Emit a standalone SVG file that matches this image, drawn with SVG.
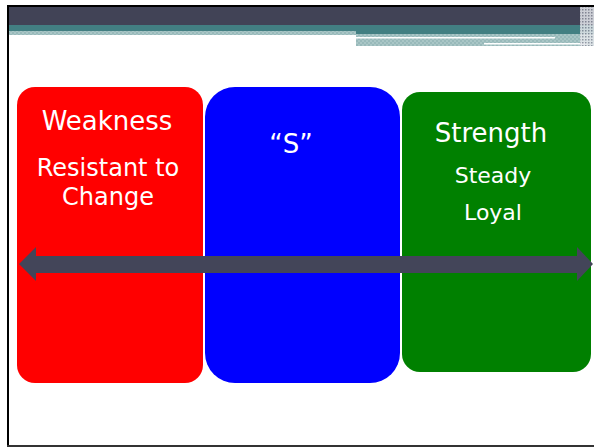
<svg xmlns="http://www.w3.org/2000/svg" width="594" height="447" viewBox="0 0 594 447">
  <defs>
    <pattern id="checker" width="4" height="4" patternUnits="userSpaceOnUse">
      <rect width="4" height="4" fill="#a9c6c6"/>
      <rect width="2" height="2" fill="#98b9ba"/>
      <rect x="2" y="2" width="2" height="2" fill="#98b9ba"/>
    </pattern>
    <pattern id="dots" width="3" height="3" patternUnits="userSpaceOnUse">
      <rect width="3" height="3" fill="#e6e8ec"/>
      <rect width="1.5" height="1.5" fill="#8d909e"/>
    </pattern>
    <style>
      .lbl { font-family: "DejaVu Sans", "Liberation Sans", sans-serif; fill: #ffffff; text-anchor: middle; }
      .title { font-size: 26px; }
      .sub { font-size: 24px; }
      .sub2 { font-size: 22px; }
    </style>
  </defs>

  <rect width="594" height="447" fill="#ffffff"/>

  <!-- header bands -->
  <g id="header">
    <rect x="7" y="5" width="587" height="2" fill="#000000"/>
    <rect x="9" y="7" width="585" height="18" fill="#414356"/>
    <rect x="9" y="25" width="585" height="6" fill="#427f82"/>
    <rect x="9" y="31" width="347" height="4" fill="url(#checker)"/>
    <rect x="356" y="31" width="238" height="3" fill="#427f82"/>
    <rect x="356" y="34" width="238" height="12" fill="url(#checker)"/>
    <rect x="356" y="37" width="199" height="1.5" fill="#ffffff"/>
    <rect x="484" y="43" width="103" height="1.5" fill="#ffffff"/>
    <rect x="580" y="7" width="14" height="39" fill="url(#dots)" opacity="0.85"/>
  </g>

  <!-- slide frame -->
  <rect x="7" y="5" width="2" height="442" fill="#000000"/>
  <rect x="7" y="445" width="587" height="2" fill="#333333"/>

  <g id="weakness">
    <rect x="17" y="87" width="186" height="296" rx="18" fill="#ff0000"/>
    <text class="lbl title" x="107" y="130">Weakness</text>
    <text class="lbl sub" x="108" y="176">Resistant to</text>
    <text class="lbl sub" x="108" y="205">Change</text>
  </g>

  <g id="s">
    <rect x="205" y="87" width="195" height="296" rx="30" fill="#0000ff"/>
    <text class="lbl title" x="291" y="153">“S”</text>
  </g>

  <g id="strength">
    <rect x="402" y="92" width="189" height="280" rx="18" fill="#008000"/>
    <text class="lbl title" x="491" y="142">Strength</text>
    <text class="lbl sub2" x="493" y="183">Steady</text>
    <text class="lbl sub2" x="493" y="220">Loyal</text>
  </g>

  <g id="connectors">
    <polygon points="19,264 36,247 36,256 577,256 577,247 593,264 577,281 577,273 36,273 36,281" fill="#434559"/>
  </g>
</svg>
